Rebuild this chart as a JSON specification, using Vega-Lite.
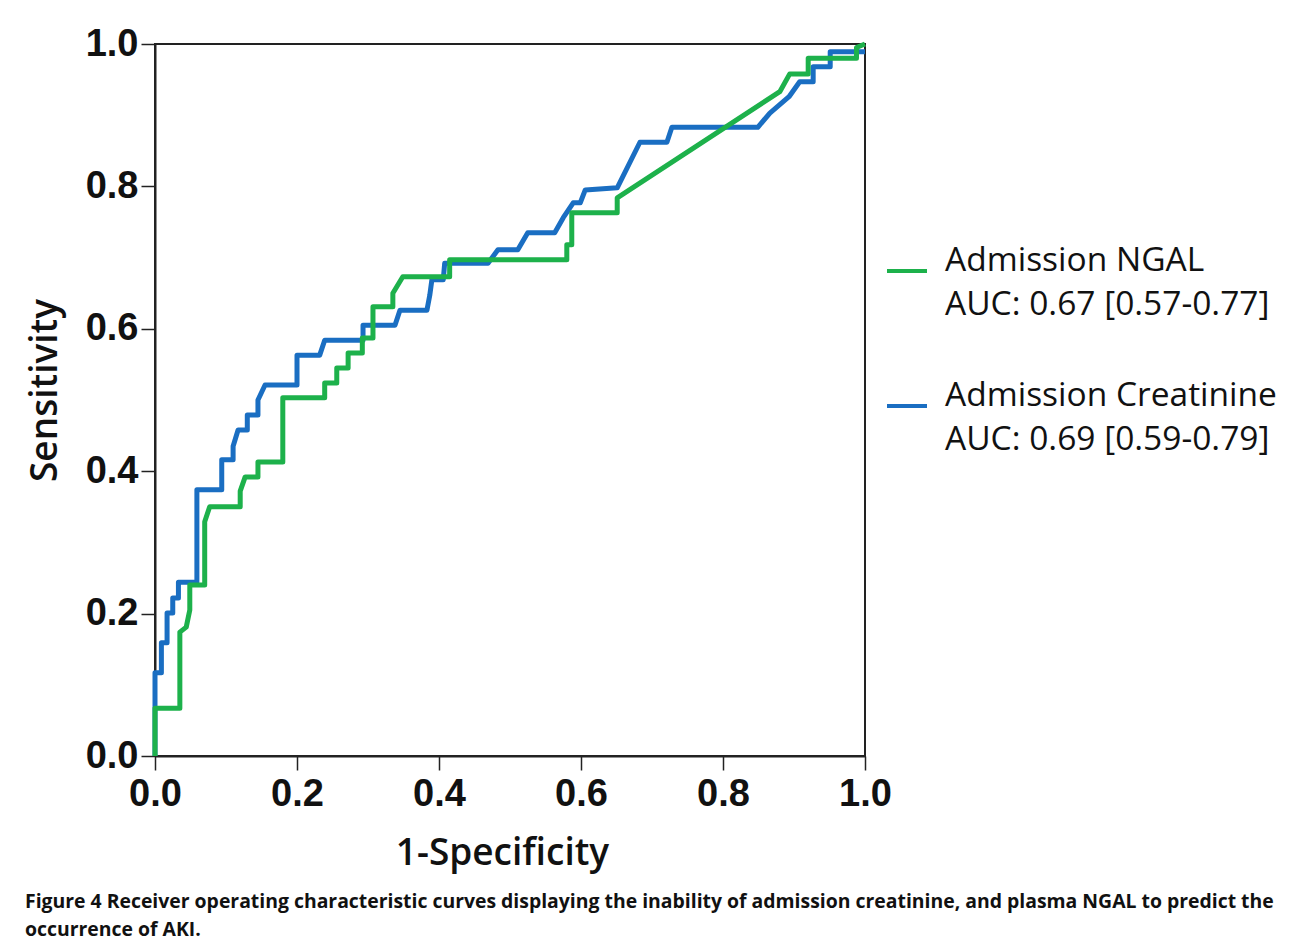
{
  "$schema": "https://vega.github.io/schema/vega-lite/v6.json",
  "width": 710,
  "height": 712,
  "autosize": {"type": "none"},
  "padding": {"left": 155, "top": 44, "right": 428, "bottom": 190},
  "background": "white",
  "title": {
    "text": ["Figure 4 Receiver operating characteristic curves displaying the inability of admission creatinine, and plasma NGAL to predict the", "occurrence of AKI."],
    "orient": "bottom",
    "anchor": "start",
    "frame": "group",
    "dx": -130,
    "offset": 22,
    "font": "Open Sans",
    "fontSize": 19.4,
    "fontWeight": "bold",
    "lineHeight": 28,
    "color": "#111111"
  },
  "data": {
    "values": [
      {"curve": "Creatinine", "i": 0, "fpr": 0, "tpr": 0},
      {"curve": "Creatinine", "i": 1, "fpr": 0, "tpr": 0.117},
      {"curve": "Creatinine", "i": 2, "fpr": 0.009, "tpr": 0.117},
      {"curve": "Creatinine", "i": 3, "fpr": 0.009, "tpr": 0.159},
      {"curve": "Creatinine", "i": 4, "fpr": 0.017, "tpr": 0.159},
      {"curve": "Creatinine", "i": 5, "fpr": 0.017, "tpr": 0.201},
      {"curve": "Creatinine", "i": 6, "fpr": 0.025, "tpr": 0.201},
      {"curve": "Creatinine", "i": 7, "fpr": 0.025, "tpr": 0.222},
      {"curve": "Creatinine", "i": 8, "fpr": 0.033, "tpr": 0.222},
      {"curve": "Creatinine", "i": 9, "fpr": 0.033, "tpr": 0.244},
      {"curve": "Creatinine", "i": 10, "fpr": 0.059, "tpr": 0.244},
      {"curve": "Creatinine", "i": 11, "fpr": 0.059, "tpr": 0.374},
      {"curve": "Creatinine", "i": 12, "fpr": 0.094, "tpr": 0.374},
      {"curve": "Creatinine", "i": 13, "fpr": 0.094, "tpr": 0.416},
      {"curve": "Creatinine", "i": 14, "fpr": 0.110, "tpr": 0.416},
      {"curve": "Creatinine", "i": 15, "fpr": 0.110, "tpr": 0.435},
      {"curve": "Creatinine", "i": 16, "fpr": 0.117, "tpr": 0.458},
      {"curve": "Creatinine", "i": 17, "fpr": 0.130, "tpr": 0.458},
      {"curve": "Creatinine", "i": 18, "fpr": 0.130, "tpr": 0.479},
      {"curve": "Creatinine", "i": 19, "fpr": 0.145, "tpr": 0.479},
      {"curve": "Creatinine", "i": 20, "fpr": 0.145, "tpr": 0.500},
      {"curve": "Creatinine", "i": 21, "fpr": 0.155, "tpr": 0.521},
      {"curve": "Creatinine", "i": 22, "fpr": 0.200, "tpr": 0.521},
      {"curve": "Creatinine", "i": 23, "fpr": 0.200, "tpr": 0.563},
      {"curve": "Creatinine", "i": 24, "fpr": 0.232, "tpr": 0.563},
      {"curve": "Creatinine", "i": 25, "fpr": 0.239, "tpr": 0.584},
      {"curve": "Creatinine", "i": 26, "fpr": 0.293, "tpr": 0.584},
      {"curve": "Creatinine", "i": 27, "fpr": 0.293, "tpr": 0.605},
      {"curve": "Creatinine", "i": 28, "fpr": 0.338, "tpr": 0.605},
      {"curve": "Creatinine", "i": 29, "fpr": 0.345, "tpr": 0.626},
      {"curve": "Creatinine", "i": 30, "fpr": 0.383, "tpr": 0.626},
      {"curve": "Creatinine", "i": 31, "fpr": 0.387, "tpr": 0.647},
      {"curve": "Creatinine", "i": 32, "fpr": 0.390, "tpr": 0.669},
      {"curve": "Creatinine", "i": 33, "fpr": 0.406, "tpr": 0.669},
      {"curve": "Creatinine", "i": 34, "fpr": 0.408, "tpr": 0.692},
      {"curve": "Creatinine", "i": 35, "fpr": 0.469, "tpr": 0.692},
      {"curve": "Creatinine", "i": 36, "fpr": 0.483, "tpr": 0.711},
      {"curve": "Creatinine", "i": 37, "fpr": 0.511, "tpr": 0.711},
      {"curve": "Creatinine", "i": 38, "fpr": 0.525, "tpr": 0.735},
      {"curve": "Creatinine", "i": 39, "fpr": 0.563, "tpr": 0.735},
      {"curve": "Creatinine", "i": 40, "fpr": 0.575, "tpr": 0.756},
      {"curve": "Creatinine", "i": 41, "fpr": 0.589, "tpr": 0.777},
      {"curve": "Creatinine", "i": 42, "fpr": 0.599, "tpr": 0.777},
      {"curve": "Creatinine", "i": 43, "fpr": 0.606, "tpr": 0.795},
      {"curve": "Creatinine", "i": 44, "fpr": 0.651, "tpr": 0.798},
      {"curve": "Creatinine", "i": 45, "fpr": 0.683, "tpr": 0.862},
      {"curve": "Creatinine", "i": 46, "fpr": 0.721, "tpr": 0.862},
      {"curve": "Creatinine", "i": 47, "fpr": 0.728, "tpr": 0.883},
      {"curve": "Creatinine", "i": 48, "fpr": 0.849, "tpr": 0.883},
      {"curve": "Creatinine", "i": 49, "fpr": 0.866, "tpr": 0.903},
      {"curve": "Creatinine", "i": 50, "fpr": 0.893, "tpr": 0.926},
      {"curve": "Creatinine", "i": 51, "fpr": 0.908, "tpr": 0.947},
      {"curve": "Creatinine", "i": 52, "fpr": 0.927, "tpr": 0.947},
      {"curve": "Creatinine", "i": 53, "fpr": 0.927, "tpr": 0.968},
      {"curve": "Creatinine", "i": 54, "fpr": 0.951, "tpr": 0.968},
      {"curve": "Creatinine", "i": 55, "fpr": 0.951, "tpr": 0.989},
      {"curve": "Creatinine", "i": 56, "fpr": 1.0, "tpr": 0.989},
      {"curve": "NGAL", "i": 0, "fpr": 0, "tpr": 0},
      {"curve": "NGAL", "i": 1, "fpr": 0, "tpr": 0.067},
      {"curve": "NGAL", "i": 2, "fpr": 0.035, "tpr": 0.067},
      {"curve": "NGAL", "i": 3, "fpr": 0.035, "tpr": 0.174},
      {"curve": "NGAL", "i": 4, "fpr": 0.044, "tpr": 0.181},
      {"curve": "NGAL", "i": 5, "fpr": 0.049, "tpr": 0.205},
      {"curve": "NGAL", "i": 6, "fpr": 0.049, "tpr": 0.240},
      {"curve": "NGAL", "i": 7, "fpr": 0.070, "tpr": 0.240},
      {"curve": "NGAL", "i": 8, "fpr": 0.070, "tpr": 0.329},
      {"curve": "NGAL", "i": 9, "fpr": 0.077, "tpr": 0.350},
      {"curve": "NGAL", "i": 10, "fpr": 0.120, "tpr": 0.350},
      {"curve": "NGAL", "i": 11, "fpr": 0.120, "tpr": 0.372},
      {"curve": "NGAL", "i": 12, "fpr": 0.127, "tpr": 0.392},
      {"curve": "NGAL", "i": 13, "fpr": 0.145, "tpr": 0.392},
      {"curve": "NGAL", "i": 14, "fpr": 0.145, "tpr": 0.413},
      {"curve": "NGAL", "i": 15, "fpr": 0.180, "tpr": 0.413},
      {"curve": "NGAL", "i": 16, "fpr": 0.180, "tpr": 0.503},
      {"curve": "NGAL", "i": 17, "fpr": 0.239, "tpr": 0.503},
      {"curve": "NGAL", "i": 18, "fpr": 0.239, "tpr": 0.524},
      {"curve": "NGAL", "i": 19, "fpr": 0.256, "tpr": 0.524},
      {"curve": "NGAL", "i": 20, "fpr": 0.256, "tpr": 0.545},
      {"curve": "NGAL", "i": 21, "fpr": 0.272, "tpr": 0.545},
      {"curve": "NGAL", "i": 22, "fpr": 0.272, "tpr": 0.566},
      {"curve": "NGAL", "i": 23, "fpr": 0.292, "tpr": 0.566},
      {"curve": "NGAL", "i": 24, "fpr": 0.292, "tpr": 0.587},
      {"curve": "NGAL", "i": 25, "fpr": 0.307, "tpr": 0.587},
      {"curve": "NGAL", "i": 26, "fpr": 0.307, "tpr": 0.631},
      {"curve": "NGAL", "i": 27, "fpr": 0.335, "tpr": 0.631},
      {"curve": "NGAL", "i": 28, "fpr": 0.335, "tpr": 0.650},
      {"curve": "NGAL", "i": 29, "fpr": 0.349, "tpr": 0.673},
      {"curve": "NGAL", "i": 30, "fpr": 0.415, "tpr": 0.673},
      {"curve": "NGAL", "i": 31, "fpr": 0.415, "tpr": 0.697},
      {"curve": "NGAL", "i": 32, "fpr": 0.580, "tpr": 0.697},
      {"curve": "NGAL", "i": 33, "fpr": 0.580, "tpr": 0.718},
      {"curve": "NGAL", "i": 34, "fpr": 0.587, "tpr": 0.718},
      {"curve": "NGAL", "i": 35, "fpr": 0.587, "tpr": 0.763},
      {"curve": "NGAL", "i": 36, "fpr": 0.651, "tpr": 0.763},
      {"curve": "NGAL", "i": 37, "fpr": 0.651, "tpr": 0.784},
      {"curve": "NGAL", "i": 38, "fpr": 0.880, "tpr": 0.933},
      {"curve": "NGAL", "i": 39, "fpr": 0.894, "tpr": 0.958},
      {"curve": "NGAL", "i": 40, "fpr": 0.920, "tpr": 0.958},
      {"curve": "NGAL", "i": 41, "fpr": 0.920, "tpr": 0.980},
      {"curve": "NGAL", "i": 42, "fpr": 0.988, "tpr": 0.980},
      {"curve": "NGAL", "i": 43, "fpr": 0.988, "tpr": 0.995},
      {"curve": "NGAL", "i": 44, "fpr": 1.0, "tpr": 1.0}
    ]
  },
  "mark": {"type": "line", "strokeWidth": 5, "strokeJoin": "round", "clip": false},
  "encoding": {
    "x": {
      "field": "fpr",
      "type": "quantitative",
      "scale": {"domain": [0, 1], "nice": false, "zero": false},
      "axis": {
        "title": "1-Specificity",
        "values": [0, 0.2, 0.4, 0.6, 0.8, 1.0],
        "format": ".1f",
        "grid": false,
        "labelFont": "Liberation Sans",
        "labelFontWeight": "bold",
        "labelFontSize": 38,
        "labelColor": "#111111",
        "labelPadding": 5,
        "labelFlush": false,
        "tickSize": 14,
        "tickColor": "#222222",
        "tickWidth": 1.5,
        "domainColor": "#222222",
        "domainWidth": 2,
        "titleFont": "Open Sans",
        "titleFontSize": 37,
        "titleFontWeight": 600,
        "titleColor": "#111111",
        "titlePadding": 22,
        "titleX": 347
      }
    },
    "y": {
      "field": "tpr",
      "type": "quantitative",
      "scale": {"domain": [0, 1], "nice": false, "zero": false},
      "axis": {
        "title": "Sensitivity",
        "values": [0, 0.2, 0.4, 0.6, 0.8, 1.0],
        "format": ".1f",
        "grid": false,
        "labelFont": "Liberation Sans",
        "labelFontWeight": "bold",
        "labelFontSize": 38,
        "labelColor": "#111111",
        "labelPadding": 3,
        "labelFlush": false,
        "tickSize": 14,
        "tickColor": "#222222",
        "tickWidth": 1.5,
        "domainColor": "#222222",
        "domainWidth": 2,
        "titleFont": "Open Sans",
        "titleFontSize": 37,
        "titleFontWeight": 600,
        "titleColor": "#111111",
        "titlePadding": 21,
        "titleY": 346
      }
    },
    "color": {
      "field": "curve",
      "type": "nominal",
      "scale": {"domain": ["NGAL", "Creatinine"], "range": ["#1db14b", "#1a6ec2"]},
      "legend": {
        "orient": "none",
        "legendX": 730,
        "legendY": 205,
        "title": null,
        "symbolType": "stroke",
        "symbolSize": 1600,
        "symbolStrokeWidth": 4,
        "labelFont": "Open Sans",
        "labelFontSize": 33.5,
        "labelColor": "#111111",
        "labelLimit": 0,
        "labelOffset": 16,
        "labelBaseline": "alphabetic",
        "labelExpr": "datum.value == 'NGAL' ? ['Admission NGAL', 'AUC: 0.67 [0.57-0.77]'] : ['Admission Creatinine', 'AUC: 0.69 [0.59-0.79]']",
        "rowPadding": 57,
        "encoding": {"labels": {"lineHeight": {"value": 44}}}
      }
    },
    "order": {"field": "i", "type": "quantitative"}
  },
  "config": {
    "view": {"stroke": "#222222", "strokeWidth": 2}
  }
}
